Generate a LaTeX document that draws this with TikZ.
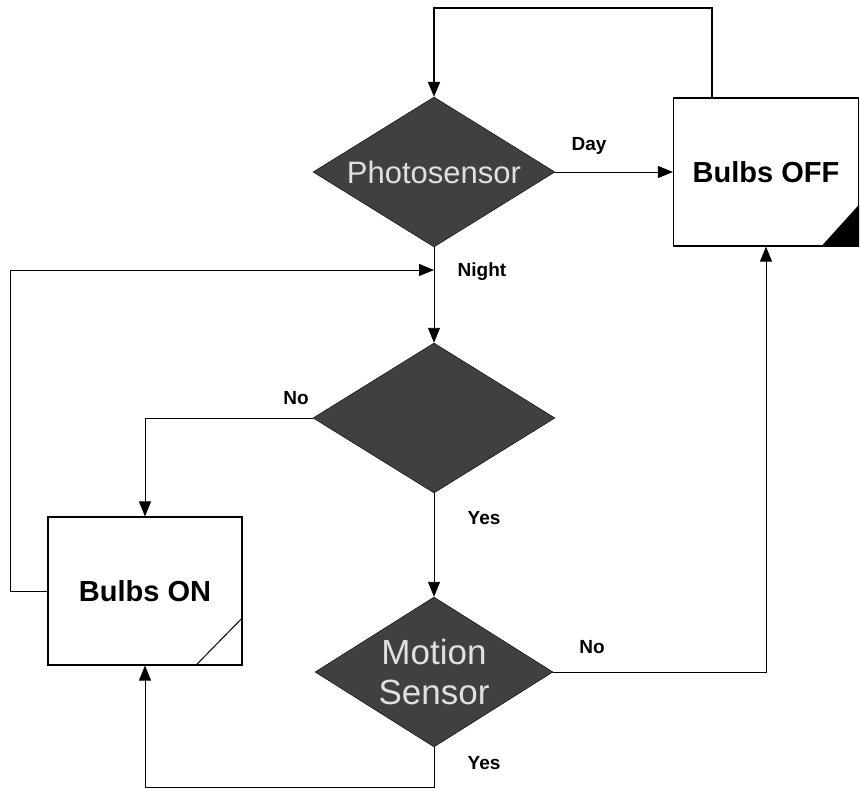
\documentclass[tikz,border=0pt]{standalone}
\usepackage{fontspec}
\setmainfont{Liberation Sans}
\usepackage{tikz}
\usetikzlibrary{arrows.meta, positioning, calc, shapes.geometric}

\begin{document}
\begin{tikzpicture}[x=1pt, y=-1pt,
    dia/.style={diamond, draw=black, fill=black!75, minimum width=242pt, minimum height=150pt, inner sep=0pt},
    diatxt/.style={text=white!88!black, font=\fontsize{31}{40}\selectfont, align=center},
    bulb/.style={rectangle, draw=black, line width=1.2pt, minimum width=190pt, minimum height=148pt, font=\bfseries\fontsize{29}{34}\selectfont},
    lbl/.style={font=\bfseries\fontsize{19}{22}\selectfont},
    arr/.style={-{Triangle[length=15pt, width=12pt]}, line width=0.9pt}]
    \useasboundingbox (0,0) rectangle (860,789);

    % decisions
    \node[dia] (photo) at (434,172) {};
    \node[diatxt] (phototxt) at (photo) {Photosensor};
    \node[dia] (timer) at (434,418) {};
    \node[dia, minimum width=238pt] (motion) at (434,672) {};
    \node[diatxt, font=\fontsize{35}{40}\selectfont] (motiontxt) at (motion) {Motion\\Sensor};

    % bulbs
    \node[bulb, minimum width=185pt] (off) at (766,172) {Bulbs OFF};
    \node[bulb, minimum width=194pt] (on) at (145,591) {Bulbs ON};
    \fill (off.south east) -- ++(-38,0) -- ($(off.south east)+(0,-42)$) -- cycle;
    \draw[line width=1pt] ($(on.south east)+(-47,0)$) -- ($(on.south east)+(0,-48)$);

    % helper points
    \coordinate (join) at (434,270);
    \coordinate (leftx) at (10,591);
    \coordinate (top) at (434,8);
    \coordinate (offtop) at ($(off.north west)+(39,0)$);
    \coordinate (bot) at (434,787);

    % connectors
    \draw[arr] (photo.east) -- (off.west);
    \draw[arr] (photo.south) -- (timer.north);
    \draw[arr] (on.west) -- (leftx) |- (join);
    \draw[arr] (timer.west) -| (on.north);
    \draw[arr] (timer.south) -- (motion.north);
    \draw[arr] (motion.east) -| (off.south);
    \draw[arr] (motion.south) -- (bot) -| (on.south);
    \draw[arr, line width=2pt] (offtop) |- (top) -- (photo.north);

    % labels
    \node[lbl] (day) at (589,146) {Day};
    \node[lbl] (night) at (482,272) {Night};
    \node[lbl] (no1) at (296,398) {No};
    \node[lbl] (yes1) at (484,518) {Yes};
    \node[lbl] (no2) at (592,647) {No};
    \node[lbl] (yes2) at (484,763) {Yes};
\end{tikzpicture}
\end{document}
